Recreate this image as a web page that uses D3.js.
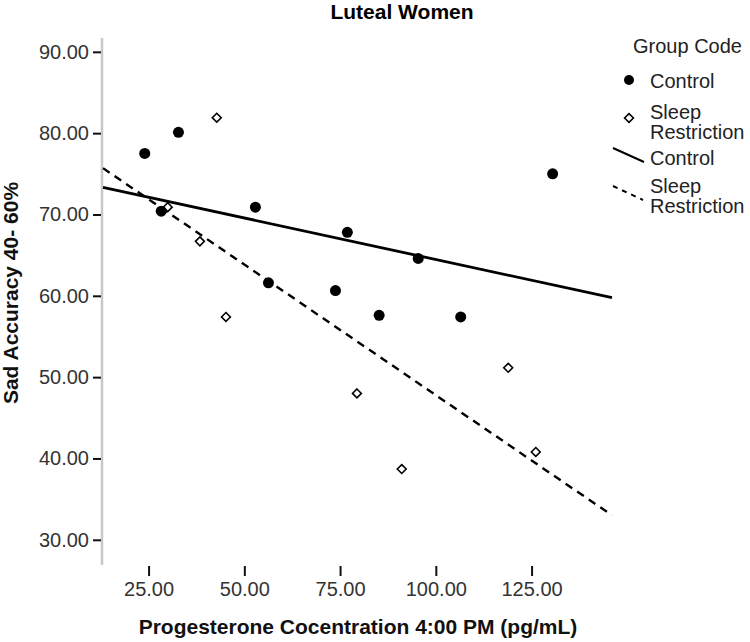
<!DOCTYPE html>
<html>
<head>
<meta charset="utf-8">
<script src="https://cdn.jsdelivr.net/npm/d3@7"></script>
<style>
  html, body { margin: 0; padding: 0; background: #fff; }
  svg { display: block; font-family: "Liberation Sans", Arial, sans-serif; }
</style>
</head>
<body>
<svg id="chart" width="750" height="642"></svg>
<script>
// ---- data ----
const title = "Luteal Women";
const xTitle = "Progesterone Cocentration 4:00 PM (pg/mL)";
const yTitle = "Sad Accuracy 40- 60%";
const groups = ["Control", "Sleep Restriction"];

const controlX = [24.0, 32.8, 28.3, 52.9, 56.3, 76.9, 73.8, 95.4, 85.2, 106.5, 130.5];
const controlY = [77.5, 80.1, 70.4, 70.9, 61.6, 67.8, 60.65, 64.6, 57.6, 57.4, 75.0];

const sleepX = [42.8, 30.0, 38.4, 45.2, 79.4, 91.1, 118.9, 126.1];
const sleepY = [81.9, 70.9, 66.7, 57.4, 48.0, 38.7, 51.15, 40.8];

const xTicks = [25, 50, 75, 100, 125];
const yTicks = [30, 40, 50, 60, 70, 80, 90];
const xDomain = [13.1, 146.0];
const yDomain = [26.9, 91.7];

// ---- chart ----
const svg = d3.select("#chart");
const x = d3.scaleLinear().domain(xDomain).range([103, 612]);
const y = d3.scaleLinear().domain(yDomain).range([565, 38]);

function fit(xs, ys) {
  const mx = d3.mean(xs), my = d3.mean(ys);
  let sxy = 0, sxx = 0;
  xs.forEach((v, i) => { sxy += (v - mx) * (ys[i] - my); sxx += (v - mx) * (v - mx); });
  const b = sxy / sxx;
  return v => my + b * (v - mx);
}

// title
svg.append("text").attr("x", 402).attr("y", 19).attr("text-anchor", "middle")
  .attr("font-size", 21).attr("font-weight", "bold").attr("fill", "#000").text(title);

// y axis
const yAxis = svg.append("g").attr("transform", "translate(102,0)")
  .call(d3.axisLeft(y).tickValues(yTicks).tickFormat(d3.format(".2f")).tickSize(9).tickPadding(4));
yAxis.select(".domain").attr("stroke", "#c8c8c8").attr("stroke-width", 2.5)
  .attr("d", `M0,${y.range()[0]}V${y.range()[1]}`);
yAxis.selectAll(".tick line").attr("stroke", "#111").attr("stroke-width", 2).attr("x1", -1);
yAxis.selectAll(".tick text").attr("font-size", 20).attr("fill", "#333")
  .attr("font-family", "Liberation Sans, Arial, sans-serif");

// x axis (ticks only)
const xAxis = svg.append("g").attr("transform", "translate(0,566)")
  .call(d3.axisBottom(x).tickValues(xTicks).tickFormat(d3.format(".2f")).tickSize(10).tickPadding(6));
xAxis.select(".domain").remove();
xAxis.selectAll(".tick line").attr("stroke", "#111").attr("stroke-width", 2);
xAxis.selectAll(".tick text").attr("font-size", 20).attr("fill", "#333")
  .attr("font-family", "Liberation Sans, Arial, sans-serif");

// axis titles
svg.append("text").attr("x", 358).attr("y", 634).attr("text-anchor", "middle")
  .attr("font-size", 21).attr("font-weight", "bold").attr("fill", "#111").text(xTitle);
svg.append("text").attr("transform", "translate(18,293) rotate(-90)").attr("text-anchor", "middle")
  .attr("font-size", 21).attr("font-weight", "bold").attr("fill", "#111").text(yTitle);

// fit lines
const fc = fit(controlX, controlY), fs = fit(sleepX, sleepY);
const line = d3.line().x(d => x(d[0])).y(d => y(d[1]));
svg.append("path").attr("d", line(xDomain.map(v => [v, fc(v)])))
  .attr("stroke", "#000").attr("stroke-width", 2.8).attr("fill", "none");
svg.append("path").attr("d", line(xDomain.map(v => [v, fs(v)])))
  .attr("stroke", "#000").attr("stroke-width", 2.4).attr("stroke-dasharray", "8,6").attr("fill", "none");

// points
const diamond = d3.symbol().type(d3.symbolDiamond2).size(50);
svg.append("g").selectAll("path").data(sleepX.map((v, i) => [v, sleepY[i]])).join("path")
  .attr("d", diamond).attr("transform", d => `translate(${x(d[0])},${y(d[1])})`)
  .attr("fill", "#fff").attr("stroke", "#000").attr("stroke-width", 1.6);
svg.append("g").selectAll("circle").data(controlX.map((v, i) => [v, controlY[i]])).join("circle")
  .attr("cx", d => x(d[0])).attr("cy", d => y(d[1])).attr("r", 5.5).attr("fill", "#000");

// legend
const lg = svg.append("g").attr("font-size", 20).attr("fill", "#222");
lg.append("text").attr("x", 633).attr("y", 53).text("Group Code");
lg.append("circle").attr("cx", 629).attr("cy", 80).attr("r", 5).attr("fill", "#000");
lg.append("text").attr("x", 650).attr("y", 88).text(groups[0]);
lg.append("path").attr("d", diamond).attr("transform", "translate(629,118)")
  .attr("fill", "#fff").attr("stroke", "#000").attr("stroke-width", 1.6);
lg.append("text").attr("x", 650).attr("y", 119).text("Sleep");
lg.append("text").attr("x", 650).attr("y", 139).text("Restriction");
lg.append("line").attr("x1", 613).attr("y1", 148).attr("x2", 644).attr("y2", 162)
  .attr("stroke", "#000").attr("stroke-width", 2);
lg.append("text").attr("x", 650).attr("y", 165).text(groups[0]);
lg.append("line").attr("x1", 613).attr("y1", 186).attr("x2", 643).attr("y2", 200)
  .attr("stroke", "#000").attr("stroke-width", 2).attr("stroke-dasharray", "5,5");
lg.append("text").attr("x", 650).attr("y", 193).text("Sleep");
lg.append("text").attr("x", 650).attr("y", 213).text("Restriction");
</script>
</body>
</html>
